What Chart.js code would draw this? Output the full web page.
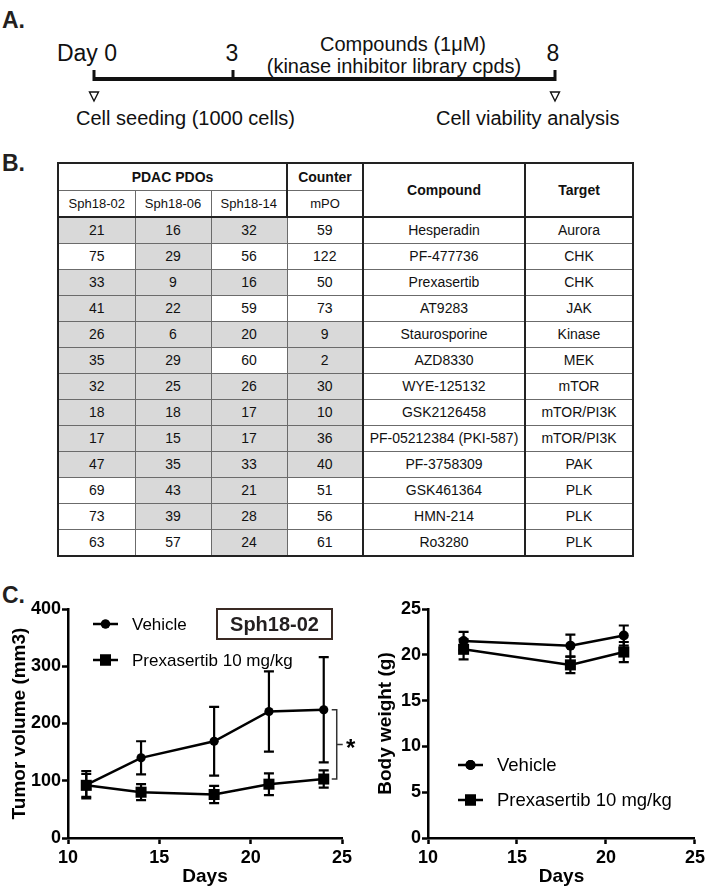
<!DOCTYPE html>
<html>
<head>
<meta charset="utf-8">
<script src="https://cdn.jsdelivr.net/npm/chart.js@4.4.1/dist/chart.umd.min.js"></script>
<style>
  body { margin: 0; width: 708px; height: 894px; position: relative; overflow: hidden; background: #fff;
         font-family: "Liberation Sans", Arial, sans-serif; color: #111; }
  .secao { position: absolute; font-weight: bold; font-size: 23px; color: #231f20; line-height: 1; }
  #tabela { position: absolute; left: 57px; top: 162px; border-collapse: collapse; table-layout: fixed;
            border: 2px solid #222; font-size: 14px; }
  #tabela td, #tabela th { border: 1px solid #6b6b6b; padding: 0; text-align: center; vertical-align: middle;
                           height: 25px; white-space: nowrap; }
  #tabela th { font-weight: bold; }
  #tabela .sub th { font-weight: normal; font-size: 13px; }
  #tabela .grosso-dir { border-right: 2px solid #222; }
  #tabela .grosso-baixo th { border-bottom: 2px solid #222; }
  #tabela .cinza { background: #d9d9d9; }
  canvas { position: absolute; }
</style>
</head>
<body>

<div class="secao" style="left:2px;top:9px">A.</div>
<div class="secao" style="left:2px;top:152px">B.</div>
<div class="secao" style="left:2px;top:584px">C.</div>

<svg width="708" height="150" style="position:absolute;left:0;top:0" font-family="Liberation Sans, Arial, sans-serif" fill="#111">
  <line x1="93" y1="79" x2="556" y2="79" stroke="#111" stroke-width="4"/>
  <line x1="94" y1="70" x2="94" y2="81" stroke="#111" stroke-width="3"/>
  <line x1="233" y1="70" x2="233" y2="81" stroke="#111" stroke-width="3"/>
  <line x1="555" y1="70" x2="555" y2="81" stroke="#111" stroke-width="3"/>
  <polygon points="89.5,92 98.5,92 94,101" fill="none" stroke="#111" stroke-width="1.4"/>
  <polygon points="550.5,92 559.5,92 555,101" fill="none" stroke="#111" stroke-width="1.4"/>
  <text x="117" y="61" text-anchor="end" font-size="23">Day 0</text>
  <text x="232" y="61" text-anchor="middle" font-size="23">3</text>
  <text x="553" y="61" text-anchor="middle" font-size="23">8</text>
  <text x="403" y="51" text-anchor="middle" font-size="20">Compounds (1μM)</text>
  <text x="394" y="73" text-anchor="middle" font-size="20">(kinase inhibitor library cpds)</text>
  <text x="76" y="125" font-size="20">Cell seeding (1000 cells)</text>
  <text x="436" y="125" font-size="20">Cell viability analysis</text>
</svg>

<table id="tabela"></table>

<canvas id="graficoTumor" width="360" height="304" style="left:0;top:590px"></canvas>
<canvas id="graficoPeso" width="348" height="304" style="left:360px;top:590px"></canvas>

<script>
// dados da tabela (% viabilidade)
var linhagens = ['Sph18-02', 'Sph18-06', 'Sph18-14'];
var sph1802 = [21, 75, 33, 41, 26, 35, 32, 18, 17, 47, 69, 73, 63];
var sph1806 = [16, 29, 9, 22, 6, 29, 25, 18, 15, 35, 43, 39, 57];
var sph1814 = [32, 56, 16, 59, 20, 60, 26, 17, 17, 33, 21, 28, 24];
var mpo = [59, 122, 50, 73, 9, 2, 30, 10, 36, 40, 51, 56, 61];
var compostos = ['Hesperadin', 'PF-477736', 'Prexasertib', 'AT9283', 'Staurosporine', 'AZD8330', 'WYE-125132',
  'GSK2126458', 'PF-05212384 (PKI-587)', 'PF-3758309', 'GSK461364', 'HMN-214', 'Ro3280'];
var alvos = ['Aurora', 'CHK', 'CHK', 'JAK', 'Kinase', 'MEK', 'mTOR', 'mTOR/PI3K', 'mTOR/PI3K', 'PAK', 'PLK', 'PLK', 'PLK'];

// dados do grafico de volume tumoral
var diasTumor = [11, 14, 18, 21, 24];
var veiculoTumor = [93, 140, 169, 221, 224];
var veiculoTumorErro = [24, 29, 60, 70, 92];
var prexTumor = [92, 80, 76, 94, 103];
var prexTumorErro = [20, 14, 15, 19, 15];

// dados do grafico de peso corporal
var diasPeso = [12, 18, 21];
var veiculoPeso = [21.5, 21.0, 22.1];
var veiculoPesoErro = [1.0, 1.2, 1.1];
var prexPeso = [20.6, 18.9, 20.3];
var prexPesoErro = [1.1, 0.9, 1.1];

var nomesSeries = ['Vehicle', 'Prexasertib 10 mg/kg'];

function montarTabela() {
  var larguras = [77, 76, 76, 76, 162, 108];
  var html = '<colgroup>';
  for (var c = 0; c < larguras.length; c++) html += '<col style="width:' + larguras[c] + 'px">';
  html += '</colgroup>';
  html += '<tr style="height:27px"><th colspan="3" class="grosso-dir">PDAC PDOs</th><th class="grosso-dir">Counter</th>' +
    '<th rowspan="2" class="grosso-dir" style="border-bottom:2px solid #222">Compound</th>' +
    '<th rowspan="2" style="border-bottom:2px solid #222">Target</th></tr>';
  html += '<tr class="sub grosso-baixo"><th>' + linhagens[0] + '</th><th>' + linhagens[1] + '</th><th class="grosso-dir">' +
    linhagens[2] + '</th><th class="grosso-dir">mPO</th></tr>';
  for (var i = 0; i < compostos.length; i++) {
    var vals = [sph1802[i], sph1806[i], sph1814[i], mpo[i]];
    html += '<tr>';
    for (var j = 0; j < vals.length; j++) {
      var cls = vals[j] < 50 ? 'cinza' : '';
      if (j == 3) cls += ' grosso-dir';
      html += '<td class="' + cls + '">' + vals[j] + '</td>';
    }
    html += '<td class="grosso-dir">' + compostos[i] + '</td><td>' + alvos[i] + '</td></tr>';
  }
  document.getElementById('tabela').innerHTML = html;
}
montarTabela();

// barras de erro (media +- erro)
var pluginErro = {
  id: 'barrasErro',
  afterDatasetsDraw: function (chart) {
    var ctx = chart.ctx;
    var y = chart.scales.y;
    ctx.save();
    ctx.strokeStyle = '#000';
    ctx.lineWidth = 2.2;
    chart.data.datasets.forEach(function (ds, d) {
      var meta = chart.getDatasetMeta(d);
      for (var i = 0; i < ds.data.length; i++) {
        var p = meta.data[i];
        var topo = y.getPixelForValue(ds.data[i].y + ds.erros[i]);
        var base = y.getPixelForValue(ds.data[i].y - ds.erros[i]);
        ctx.beginPath();
        ctx.moveTo(p.x, topo); ctx.lineTo(p.x, base);
        ctx.moveTo(p.x - 5, topo); ctx.lineTo(p.x + 5, topo);
        ctx.moveTo(p.x - 5, base); ctx.lineTo(p.x + 5, base);
        ctx.stroke();
      }
    });
    ctx.restore();
  }
};

// legenda desenhada a mao, dentro da area do grafico (coordenadas do canvas)
var pluginLegenda = {
  id: 'legendaManual',
  afterDraw: function (chart, args, opts) {
    var ctx = chart.ctx;
    ctx.save();
    chart.data.datasets.forEach(function (ds, d) {
      var yy = opts.y + d * opts.passo;
      ctx.strokeStyle = '#000';
      ctx.lineWidth = 2.5;
      ctx.beginPath();
      ctx.moveTo(opts.x, yy); ctx.lineTo(opts.x + 25, yy);
      ctx.stroke();
      Chart.helpers.drawPoint(ctx, { pointStyle: ds.pointStyle, radius: ds.pointRadius, borderWidth: 0 }, opts.x + 12.5, yy);
      ctx.fillStyle = '#000';
      ctx.fill();
      ctx.font = opts.tamanho + 'px "Liberation Sans", Arial, sans-serif';
      ctx.textBaseline = 'middle';
      ctx.fillText(ds.label, opts.x + 39, yy + 1);
    });
    ctx.restore();
  }
};

// caixa "Sph18-02" e colchete com asterisco
var pluginAnotacao = {
  id: 'anotacao',
  afterDraw: function (chart, args, opts) {
    if (!opts.ativo) return;
    var ctx = chart.ctx;
    var x = chart.scales.x, y = chart.scales.y;
    ctx.save();
    ctx.strokeStyle = '#3a2a24';
    ctx.lineWidth = 2;
    ctx.strokeRect(217, 19, 115, 30);
    ctx.fillStyle = '#231f20';
    ctx.font = 'bold 20px "Liberation Sans", Arial, sans-serif';
    ctx.textAlign = 'center';
    ctx.textBaseline = 'middle';
    ctx.fillText('Sph18-02', 274.5, 35);
    var ultimo = diasTumor.length - 1;
    var bx = x.getPixelForValue(diasTumor[ultimo]) + 13;
    var y1 = y.getPixelForValue(veiculoTumor[ultimo]);
    var y2 = y.getPixelForValue(prexTumor[ultimo]);
    ctx.strokeStyle = '#333';
    ctx.lineWidth = 1.5;
    ctx.beginPath();
    ctx.moveTo(bx - 5, y1); ctx.lineTo(bx, y1); ctx.lineTo(bx, y2); ctx.lineTo(bx - 5, y2);
    ctx.moveTo(bx, (y1 + y2) / 2); ctx.lineTo(bx + 6, (y1 + y2) / 2);
    ctx.stroke();
    ctx.fillStyle = '#000';
    ctx.font = 'bold 24px "Liberation Sans", Arial, sans-serif';
    ctx.fillText('*', bx + 14, (y1 + y2) / 2 + 5);
    ctx.restore();
  }
};

function serie(rotulo, dias, medias, erros, estilo, raio) {
  var pontos = [];
  for (var i = 0; i < dias.length; i++) pontos.push({ x: dias[i], y: medias[i] });
  return {
    label: rotulo, data: pontos, erros: erros, showLine: true,
    borderColor: '#000', backgroundColor: '#000', borderWidth: 2.5,
    pointStyle: estilo, pointRadius: raio, pointBorderWidth: 0, pointBackgroundColor: '#000'
  };
}

var fonteEixo = { family: '"Liberation Sans", Arial, sans-serif', size: 18, weight: 'bold' };
var fonteTitulo = { family: '"Liberation Sans", Arial, sans-serif', size: 19, weight: 'bold' };

function eixos(yMax, yPasso, tituloY, padTitulo) {
  return {
    x: {
      type: 'linear', min: 10, max: 25,
      ticks: { stepSize: 5, color: '#000', font: fonteEixo, padding: 3, maxRotation: 0 },
      grid: { display: true, drawOnChartArea: false, drawTicks: true, tickLength: 6, tickWidth: 2.5, tickColor: '#000' },
      border: { display: true, color: '#000', width: 2.5 },
      title: { display: true, text: 'Days', color: '#000', font: fonteTitulo, padding: { top: 0, bottom: 6 } },
      afterFit: function (s) { s.height = 56; }
    },
    y: {
      type: 'linear', min: 0, max: yMax,
      ticks: { stepSize: yPasso, color: '#000', font: fonteEixo, padding: 1 },
      grid: { display: true, drawOnChartArea: false, drawTicks: true, tickLength: 6, tickWidth: 2.5, tickColor: '#000' },
      border: { display: true, color: '#000', width: 2.5 },
      title: { display: true, text: tituloY, color: '#000', font: fonteTitulo, padding: { top: padTitulo, bottom: 0 } },
      afterFit: function (s) { s.width = 68; }
    }
  };
}

function plotarGrafico(id, datasets, escalas, padDir, legenda, anotacao) {
  return new Chart(document.getElementById(id), {
    type: 'scatter',
    data: { datasets: datasets },
    options: {
      responsive: false, animation: false, devicePixelRatio: 1,
      layout: { padding: { top: 19, right: padDir, left: 0, bottom: 0 } },
      scales: escalas,
      plugins: { legend: { display: false }, tooltip: { enabled: false },
        legendaManual: legenda, anotacao: { ativo: anotacao } }
    },
    plugins: [pluginErro, pluginLegenda, pluginAnotacao]
  });
}

plotarGrafico('graficoTumor', [
  serie(nomesSeries[0], diasTumor, veiculoTumor, veiculoTumorErro, 'circle', 4.6),
  serie(nomesSeries[1], diasTumor, prexTumor, prexTumorErro, 'rect', 7.8)
], eixos(400, 100, 'Tumor volume (mm3)', 8), 18, { x: 93, y: 34, passo: 36, tamanho: 17 }, true);

plotarGrafico('graficoPeso', [
  serie(nomesSeries[0], diasPeso, veiculoPeso, veiculoPesoErro, 'circle', 5),
  serie(nomesSeries[1], diasPeso, prexPeso, prexPesoErro, 'rect', 7.8)
], eixos(25, 5, 'Body weight (g)', 14), 10, { x: 98, y: 175, passo: 35, tamanho: 18.5 }, false);
</script>
</body>
</html>
